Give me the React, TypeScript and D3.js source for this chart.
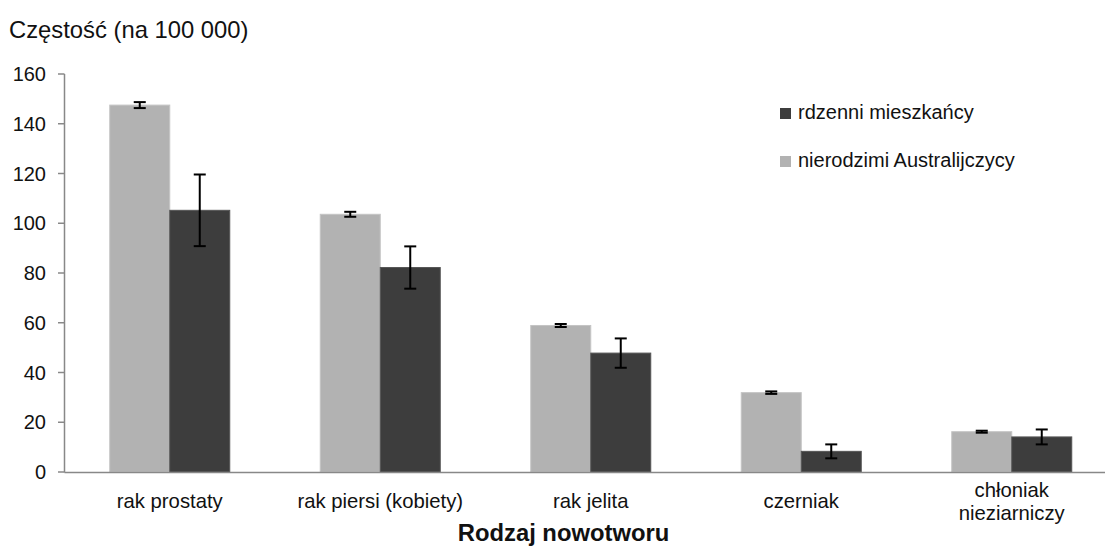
import React from "react";
import * as d3 from "d3";

const categories: string[][] = [
  ["rak prostaty"],
  ["rak piersi (kobiety)"],
  ["rak jelita"],
  ["czerniak"],
  ["chłoniak", "nieziarniczy"],
];
const nonIndigenous = [147.5, 103.6, 58.9, 31.9, 16.2];
const nonIndigenousErr = [1.2, 1.0, 0.6, 0.5, 0.4];
const indigenous = [105.2, 82.2, 47.8, 8.3, 14.1];
const indigenousErr = [14.4, 8.5, 5.9, 2.8, 3.0];
const yTicks = [0, 20, 40, 60, 80, 100, 120, 140, 160];
const seriesNames = ["rdzenni mieszkańcy", "nierodzimi Australijczycy"];

const W = 1105;
const H = 549;
const LIGHT = "#b2b2b2";
const DARK = "#3d3d3d";
const FONT = "'Liberation Sans', Arial, sans-serif";

export default function App() {
  const x = d3
    .scaleBand<number>()
    .domain(d3.range(categories.length))
    .range([64.5, 1117])
    .paddingInner(0)
    .paddingOuter(0);
  const y = d3.scaleLinear().domain([0, 160]).range([472, 74]);
  const barW = 60;

  const series = [
    { vals: nonIndigenous, errs: nonIndigenousErr, color: LIGHT, stroke: "#c4c4c4", off: -barW },
    { vals: indigenous, errs: indigenousErr, color: DARK, stroke: "#555", off: 0 },
  ];

  return (
    <svg width={W} height={H} style={{ position: "absolute", left: 0, top: 0, background: "#fff" }} fontFamily={FONT}>
      <text x={9} y={38} fontSize={23.8} fill="#111">Częstość (na 100 000)</text>

      {/* bars */}
      {series.map((s, si) =>
        s.vals.map((v, i) => {
          const cx = (x(i) as number) + x.bandwidth() / 2;
          return (
            <rect
              key={`b${si}-${i}`}
              x={cx + s.off}
              y={y(v)}
              width={barW}
              height={y(0) - y(v)}
              fill={s.color}
              stroke={s.stroke}
              strokeWidth={1}
            />
          );
        })
      )}

      {/* axes */}
      <line x1={64.5} x2={W} y1={472.5} y2={472.5} stroke="#888" strokeWidth={1.5} />
      <line x1={64.5} x2={64.5} y1={y(160)} y2={472.5} stroke="#888" strokeWidth={1.5} />
      {yTicks.map((t) => (
        <g key={t}>
          <line x1={58} x2={64.5} y1={y(t)} y2={y(t)} stroke="#888" strokeWidth={1.5} />
          <text x={46} y={y(t) + 7} fontSize={20} textAnchor="end" fill="#111">{t}</text>
        </g>
      ))}

      {/* error bars */}
      {series.map((s, si) =>
        s.vals.map((v, i) => {
          const cx = (x(i) as number) + x.bandwidth() / 2 + s.off + barW / 2;
          const e = s.errs[i];
          return (
            <g key={`e${si}-${i}`} stroke="#000" strokeWidth={2}>
              <line x1={cx} x2={cx} y1={y(v + e)} y2={y(v - e)} />
              <line x1={cx - 6} x2={cx + 6} y1={y(v + e)} y2={y(v + e)} />
              <line x1={cx - 6} x2={cx + 6} y1={y(v - e)} y2={y(v - e)} />
            </g>
          );
        })
      )}

      {/* category labels */}
      {categories.map((lines, i) => {
        const cx = (x(i) as number) + x.bandwidth() / 2;
        const start = lines.length === 1 ? 508 : 497;
        return lines.map((ln, li) => (
          <text key={`c${i}-${li}`} x={cx} y={start + li * 23} fontSize={20.3} textAnchor="middle" fill="#111">
            {ln}
          </text>
        ));
      })}

      <text x={563.5} y={541} fontSize={23.8} fontWeight="bold" textAnchor="middle" fill="#111">
        Rodzaj nowotworu
      </text>

      {/* legend */}
      <rect x={780} y={108} width={11} height={11} fill={DARK} />
      <text x={798} y={118.5} fontSize={20} fill="#111">{seriesNames[0]}</text>
      <rect x={780} y={156} width={11} height={11} fill={LIGHT} />
      <text x={798} y={166.5} fontSize={20} fill="#111">{seriesNames[1]}</text>
    </svg>
  );
}
